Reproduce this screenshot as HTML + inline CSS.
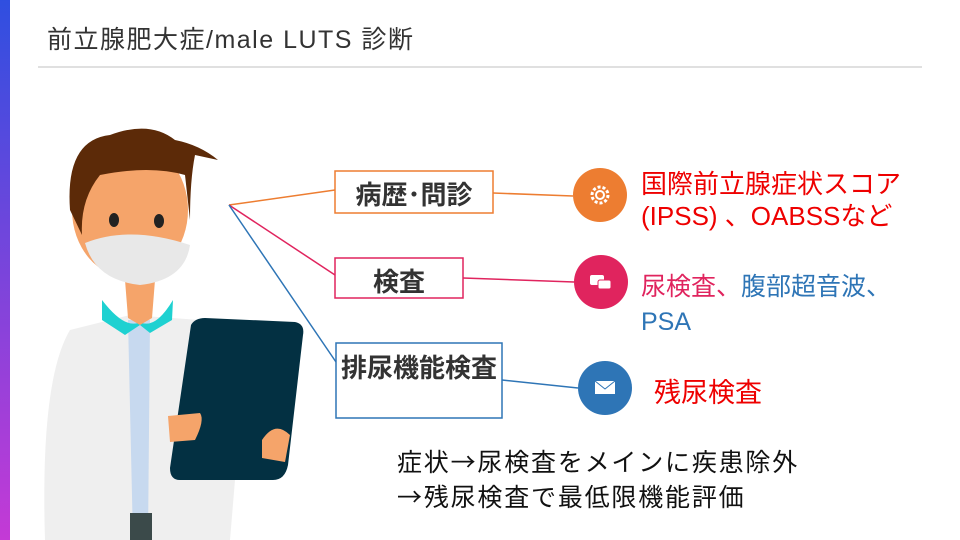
<!DOCTYPE html>
<html><head><meta charset="utf-8"><style>
body{margin:0;width:960px;height:540px;overflow:hidden;background:#fff;font-family:"Liberation Sans","Noto Sans CJK JP",sans-serif;position:relative}
.t{position:absolute;white-space:nowrap}
.j{font-family:"Noto Sans CJK JP",sans-serif}
</style></head><body>
<div style="position:absolute;left:0;top:0;width:10px;height:540px;background:linear-gradient(#2f4fe0,#c43ad6)"></div>
<div class="t" style="left:47px;top:20px;font-size:25px;letter-spacing:1.5px;color:#333">前立腺肥大症/male LUTS 診断</div>
<div style="position:absolute;left:38px;top:66px;width:884px;height:2px;background:#e0e0e0"></div>
<svg width="960" height="540" style="position:absolute;left:0;top:0">
<path d="M45 540 Q40 380 70 330 L130 315 L200 320 Q235 340 240 420 L230 540Z" fill="#efefef"/>
<path d="M128 320 L150 320 L148 540 L133 540Z" fill="#c7d9ef"/>
<rect x="130" y="513" width="22" height="27" fill="#3b4a4a"/>
<path d="M102 300 Q125 330 140 322 Q155 330 173 300 L172 320 L150 333 L140 325 L125 335 L102 320Z" fill="#1ed1d1"/>
<path d="M125 280 L155 280 L152 318 L140 325 L128 318Z" fill="#f5a46a"/>
<ellipse cx="130" cy="210" rx="58" ry="68" fill="#f5a46a"/>
<path d="M70 210 Q65 140 110 135 Q150 120 175 140 Q200 145 218 160 L195 155 Q190 180 190 220 L185 175 Q150 165 100 175 Q80 200 82 235Z" fill="#5c2a08"/>
<ellipse cx="114" cy="220" rx="5" ry="7" fill="#222"/>
<ellipse cx="159" cy="221" rx="5" ry="7" fill="#222"/>
<path d="M85 243 Q130 225 190 245 Q185 280 140 285 Q95 280 85 243Z" fill="#e8e8e8"/>
<path d="M191 325 Q195 318 205 318 L295 322 Q305 324 303 335 L288 465 Q285 480 273 480 L180 480 Q170 480 170 468Z" fill="#033042"/>
<path d="M168 416 L200 413 Q205 420 195 440 L170 442Z" fill="#f5a46a"/>
<path d="M262 440 Q275 420 290 435 L285 462 L262 458Z" fill="#f5a46a"/>
<g stroke-width="1.5" fill="none">
<path d="M229 205 L335 190 M493 193 L573 196" stroke="#ed7d31"/>
<path d="M229 205 L335 275 M463 278 L574 282" stroke="#e0245e"/>
<path d="M229 205 L336 362 M502 380 L578 388" stroke="#2e75b6"/>
</g>
<rect x="335" y="171" width="158" height="42" fill="#fff" stroke="#ed7d31" stroke-width="1.5"/>
<rect x="335" y="258" width="128" height="40" fill="#fff" stroke="#e0245e" stroke-width="1.5"/>
<rect x="336" y="343" width="166" height="75" fill="#fff" stroke="#2e75b6" stroke-width="1.5"/>
<circle cx="600" cy="195" r="27" fill="#ed7d31"/>
<circle cx="601" cy="282" r="27" fill="#e0245e"/>
<circle cx="605" cy="388" r="27" fill="#2e75b6"/>
<circle cx="600" cy="195" r="8" fill="none" stroke="#fff" stroke-width="3" stroke-dasharray="3 2"/>
<circle cx="600" cy="195" r="4" fill="none" stroke="#fff" stroke-width="2"/>
<rect x="590" y="275" width="14" height="10" rx="2" fill="#fff"/>
<rect x="598" y="280" width="13" height="9" rx="2" fill="#fff" stroke="#e0245e"/>
<rect x="595" y="381" width="20" height="13" fill="#fff"/>
<path d="M595 381 L605 389 L615 381" stroke="#2e75b6" fill="none"/>
</svg>
<div class="t" style="left:335px;top:175px;width:158px;text-align:center;font-size:26px;font-weight:bold;color:#333">病歴･問診</div>
<div class="t" style="left:335px;top:262px;width:128px;text-align:center;font-size:26px;font-weight:bold;color:#333">検査</div>
<div class="t" style="left:336px;top:348px;width:166px;text-align:center;font-size:26px;font-weight:bold;color:#333">排尿機能検査</div>
<div class="t" style="left:641px;top:168px;font-size:26px;color:#e00;line-height:32px">国際前立腺症状スコア<br>(IPSS) 、OABSSなど</div>
<div class="t" style="left:641px;top:270px;font-size:25px;line-height:35px"><span style="color:#e0245e">尿検査、</span><span style="color:#2e75b6">腹部超音波、<br>PSA</span></div>
<div class="t" style="left:654px;top:371px;font-size:27px;color:#e00">残尿検査</div>
<div class="t" style="left:397px;top:445px;font-size:25px;letter-spacing:1.8px;color:#111;line-height:33px">症状<span class="j">→</span>尿検査をメインに疾患除外<br><span class="j">→</span>残尿検査で最低限機能評価</div>
</body></html>
